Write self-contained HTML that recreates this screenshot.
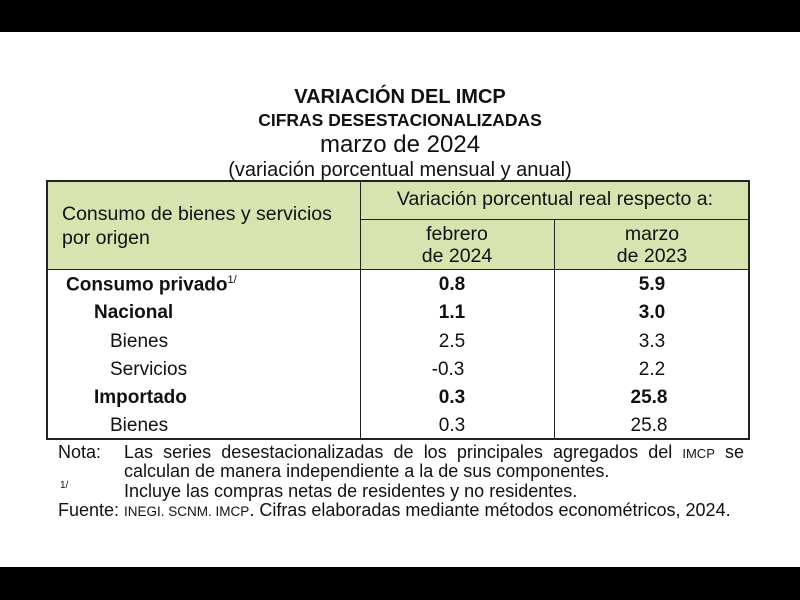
<!DOCTYPE html>
<html><head><meta charset="utf-8"><style>
body{margin:0;width:800px;height:600px;background:#000;position:relative;overflow:hidden;font-family:"Liberation Sans",sans-serif;color:#111}
#pg{position:absolute;left:0;top:32px;width:800px;height:535px;background:#fff}
.t{position:absolute;white-space:nowrap;line-height:1}
.c{transform:translateX(-50%)}
.g{position:absolute;background:#d7e4b0}
.l{position:absolute;background:#222}
</style></head><body>
<div id="pg"></div>
<div class="g" style="left:46px;top:180px;width:703px;height:90px"></div>
<div class="l" style="left:46px;top:180px;width:704px;height:2px"></div>
<div class="l" style="left:46px;top:438px;width:704px;height:2px"></div>
<div class="l" style="left:46px;top:180px;width:2px;height:260px"></div>
<div class="l" style="left:748px;top:180px;width:2px;height:260px"></div>
<div class="l" style="left:360px;top:180px;width:1px;height:260px"></div>
<div class="l" style="left:554px;top:219px;width:1px;height:221px"></div>
<div class="l" style="left:360px;top:219px;width:390px;height:1px"></div>
<div class="l" style="left:46px;top:269px;width:704px;height:1px"></div>

<div class="t c" style="left:400px;top:87px;font-size:20px;font-weight:bold">VARIACIÓN DEL IMCP</div>
<div class="t c" style="left:400px;top:112px;font-size:17.5px;font-weight:bold">CIFRAS DESESTACIONALIZADAS</div>
<div class="t c" style="left:400px;top:133px;font-size:24px">marzo de 2024</div>
<div class="t c" style="left:400px;top:160px;font-size:20px">(variación porcentual mensual y anual)</div>

<div class="t" style="left:62px;top:205px;font-size:19.5px">Consumo de bienes y servicios</div>
<div class="t" style="left:62px;top:229px;font-size:19.5px">por origen</div>
<div class="t c" style="left:555px;top:190px;font-size:19.5px">Variación porcentual real respecto a:</div>
<div class="t c" style="left:457px;top:225px;font-size:19.5px">febrero</div>
<div class="t c" style="left:457px;top:247px;font-size:19.5px">de 2024</div>
<div class="t c" style="left:652px;top:225px;font-size:19.5px">marzo</div>
<div class="t c" style="left:652px;top:247px;font-size:19.5px">de 2023</div>

<div class="t" style="left:66px;top:275px;font-size:19px;font-weight:bold">Consumo privado<sup style="font-size:11px;font-weight:normal">1/</sup></div>
<div class="t" style="left:94px;top:303px;font-size:19px;font-weight:bold">Nacional</div>
<div class="t" style="left:110px;top:332px;font-size:19px">Bienes</div>
<div class="t" style="left:110px;top:360px;font-size:19px">Servicios</div>
<div class="t" style="left:94px;top:388px;font-size:19px;font-weight:bold">Importado</div>
<div class="t" style="left:110px;top:416px;font-size:19px">Bienes</div>

<div class="t c" style="left:452px;top:275px;font-size:19px;font-weight:bold">0.8</div>
<div class="t c" style="left:452px;top:303px;font-size:19px;font-weight:bold">1.1</div>
<div class="t c" style="left:452px;top:332px;font-size:19px">2.5</div>
<div class="t c" style="left:448px;top:360px;font-size:19px">-0.3</div>
<div class="t c" style="left:452px;top:388px;font-size:19px;font-weight:bold">0.3</div>
<div class="t c" style="left:452px;top:416px;font-size:19px">0.3</div>

<div class="t c" style="left:652px;top:275px;font-size:19px;font-weight:bold">5.9</div>
<div class="t c" style="left:652px;top:303px;font-size:19px;font-weight:bold">3.0</div>
<div class="t c" style="left:652px;top:332px;font-size:19px">3.3</div>
<div class="t c" style="left:652px;top:360px;font-size:19px">2.2</div>
<div class="t c" style="left:649px;top:388px;font-size:19px;font-weight:bold">25.8</div>
<div class="t c" style="left:649px;top:416px;font-size:19px">25.8</div>

<div class="t" style="left:58px;top:443px;font-size:18px">Nota:</div>
<div class="t" style="left:124px;top:443px;font-size:18px;width:620px;display:flex;justify-content:space-between"><span>Las</span><span>series</span><span>desestacionalizadas</span><span>de</span><span>los</span><span>principales</span><span>agregados</span><span>del</span><span style="font-size:13px;margin-top:4px">IMCP</span><span>se</span></div>
<div class="t" style="left:124px;top:462px;font-size:18px">calculan de manera independiente a la de sus componentes.</div>
<div class="t" style="left:60px;top:481px;font-size:10px">1/</div>
<div class="t" style="left:124px;top:482px;font-size:18px">Incluye las compras netas de residentes y no residentes.</div>
<div class="t" style="left:58px;top:501px;font-size:18px">Fuente: <span style="font-size:13.5px">INEGI. SCNM. IMCP</span>. Cifras elaboradas mediante métodos econométricos, 2024.</div>
</body></html>
